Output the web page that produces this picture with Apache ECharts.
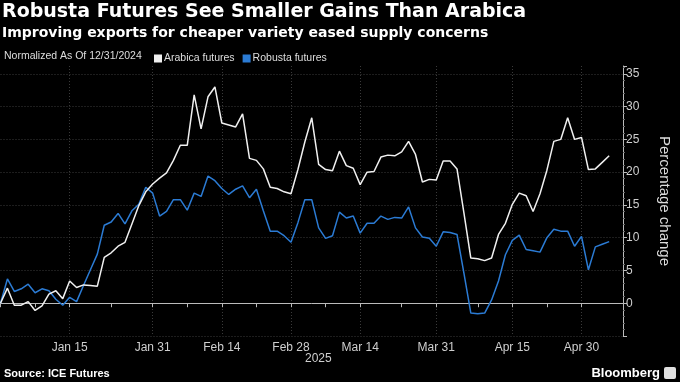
<!DOCTYPE html>
<html>
<head>
<meta charset="utf-8">
<script src="https://cdn.jsdelivr.net/npm/echarts@6/dist/echarts.min.js"></script>
<style>
html,body{margin:0;padding:0;background:#000;}
#chart{width:680px;height:382px;}
</style>
</head>
<body>
<div id="chart"></div>
<script>
const dates = ["Dec 31",
 "Jan 2","Jan 3","Jan 6","Jan 7","Jan 8","Jan 9","Jan 10","Jan 13","Jan 14","Jan 15",
 "Jan 16","Jan 17","Jan 20","Jan 21","Jan 22","Jan 23","Jan 24","Jan 27","Jan 28","Jan 29","Jan 30","Jan 31",
 "Feb 3","Feb 4","Feb 5","Feb 6","Feb 7","Feb 10","Feb 11","Feb 12","Feb 13","Feb 14",
 "Feb 17","Feb 18","Feb 19","Feb 20","Feb 21","Feb 24","Feb 25","Feb 26","Feb 27","Feb 28",
 "Mar 3","Mar 4","Mar 5","Mar 6","Mar 7","Mar 10","Mar 11","Mar 12","Mar 13","Mar 14",
 "Mar 17","Mar 18","Mar 19","Mar 20","Mar 21","Mar 24","Mar 25","Mar 26","Mar 27","Mar 28","Mar 31",
 "Apr 1","Apr 2","Apr 3","Apr 4","Apr 7","Apr 8","Apr 9","Apr 10","Apr 11","Apr 14","Apr 15",
 "Apr 16","Apr 17","Apr 21","Apr 22","Apr 23","Apr 24","Apr 25","Apr 28","Apr 29","Apr 30",
 "May 1","May 2","May 5","May 6","May 7","May 8"];

const arabica = [0,
 2.3,-0.3,-0.3,0.25,-1.1,-0.4,1.4,1.9,0.7,3.4,
 2.4,2.8,2.7,2.6,7.0,7.7,8.7,9.3,12.1,14.9,17.0,18.2,
 19.1,19.9,21.8,24.1,24.1,31.8,26.6,31.5,33.0,27.5,
 27.2,26.9,28.9,22.1,21.8,20.5,17.7,17.5,17.0,16.7,
 20.4,24.6,28.3,21.2,20.4,20.2,23.2,21.0,20.6,18.1,
 20.0,20.1,22.3,22.6,22.5,23.1,24.7,22.7,18.5,18.9,18.8,
 21.7,21.7,20.5,13.8,6.9,6.8,6.5,6.9,10.5,12.2,15.1,
 16.8,16.4,14.0,16.7,20.3,24.7,25.0,28.3,25.0,25.3,
 20.4,20.5,21.5,22.5];

const robusta = [0,
 3.7,1.8,2.2,2.9,1.6,2.2,1.9,0.6,-0.3,0.9,
 0.25,2.7,5.1,7.5,11.9,12.4,13.7,12.1,14.1,15.1,17.7,16.8,
 13.3,14.0,15.8,15.8,14.2,16.8,16.3,19.4,18.7,17.5,
 16.6,17.4,17.9,16.1,17.4,14.1,11.0,11.0,10.3,9.3,
 12.3,15.8,15.8,11.5,9.9,10.3,13.9,13.0,13.3,10.7,
 12.2,12.2,13.3,12.8,13.1,13.0,14.7,11.5,10.1,9.9,8.7,
 10.9,10.8,10.5,4.6,-1.5,-1.6,-1.5,0.5,3.4,7.4,9.6,
 10.4,8.2,8.0,7.8,10.0,11.3,11.0,11.0,8.7,10.2,
 5.1,8.6,9.0,9.4];

const labelIdx = [10,22,32,42,52,63,74,84];
const tickIdx = [0,5,10,16,22,27,32,37,42,47,52,58,63,69,74,79,84,90];
const yTickLabels = [0,5,10,15,20,25,30,35];

const chart = echarts.init(document.getElementById('chart'), null, {renderer:'canvas'});
const gridColor = '#3a3a3a';
const axisTextColor = '#cfcfcf';

chart.setOption({
  backgroundColor: '#000',
  animation: false,
  grid: {left: 0.5, right: 45, top: 66, bottom: 46, containLabel: false},
  legend: {
    left: 149, top: 48,
    icon: 'rect', itemWidth: 8, itemHeight: 8, itemGap: 8,
    textStyle: {color: '#dedede', fontSize: 10.5, fontFamily: 'Liberation Sans', padding: [0,0,0,-3]},
    data: ['Arabica futures', 'Robusta futures']
  },
  xAxis: {
    type: 'category',
    data: dates,
    boundaryGap: false,
    axisLine: {show: true, lineStyle: {color: '#bbbbbb', width: 1}},
    axisTick: {show: true, length: 4, lineStyle: {color: '#bbbbbb'},
      interval: (i) => tickIdx.includes(i)},
    axisLabel: {color: axisTextColor, fontSize: 12, fontFamily: 'Liberation Sans', margin: 6,
      interval: (i) => labelIdx.includes(i), hideOverlap: false},
    splitLine: {show: true, interval: (i) => labelIdx.includes(i),
      lineStyle: {color: gridColor, type: [1,2], width: 1}}
  },
  yAxis: {
    type: 'value',
    position: 'right',
    min: -5, max: 36.2, interval: 5,
    axisLine: {show: true, lineStyle: {color: '#bbbbbb', width: 1}},
    axisTick: {show: true, length: 4, lineStyle: {color: '#bbbbbb'}},
    minorTick: {show: true, splitNumber: 5, length: 2, lineStyle: {color: '#666'}},
    axisLabel: {color: axisTextColor, fontSize: 12, fontFamily: 'Liberation Sans', margin: 3,
      formatter: (v) => yTickLabels.includes(v) ? String(v) : ''},
    splitLine: {show: true, lineStyle: {color: [gridColor,gridColor,gridColor,gridColor,gridColor,gridColor,gridColor,gridColor,gridColor,'rgba(0,0,0,0)'], type: [1,2], width: 1}},
    name: 'Percentage change',
    nameLocation: 'middle',
    nameRotate: -90,
    nameGap: 34,
    nameTextStyle: {color: '#dcdcdc', fontSize: 15, fontFamily: 'Liberation Sans'}
  },
  series: [
    {name: 'Arabica futures', type: 'line', data: arabica, symbol: 'none',
     lineStyle: {color: '#f0f0f0', width: 1.5}, itemStyle: {color: '#f0f0f0'}, z: 3},
    {name: 'Robusta futures', type: 'line', data: robusta, symbol: 'none',
     lineStyle: {color: '#2b7bd4', width: 1.5}, itemStyle: {color: '#2b7bd4'}, z: 2}
  ],
  graphic: [
    {type: 'text', left: 2, top: 3, style: {text: 'Robusta Futures See Smaller Gains Than Arabica',
      fill: '#fff', font: 'bold 19px "DejaVu Sans"'}},
    {type: 'text', left: 2, top: 26, style: {text: 'Improving exports for cheaper variety eased supply concerns',
      fill: '#fff', font: 'bold 14px "DejaVu Sans"'}},
    {type: 'text', left: 4, top: 51, style: {text: 'Normalized As Of 12/31/2024',
      fill: '#dedede', font: '10.5px "Liberation Sans"'}},
    {type: 'text', left: 305, top: 353, style: {text: '2025',
      fill: axisTextColor, font: '12px "Liberation Sans"'}},
    {type: 'text', left: 4, top: 368, style: {text: 'Source: ICE Futures',
      fill: '#fff', font: 'bold 11px "Liberation Sans"'}},
    {type: 'text', right: 20, top: 367, style: {text: 'Bloomberg',
      fill: '#fff', font: 'bold 13px "Liberation Sans"'}},
    {type: 'rect', right: 4, top: 367, shape: {width: 12, height: 12, r: 2}, style: {fill: '#e0e0e0'}}
  ]
});
</script>
</body>
</html>
